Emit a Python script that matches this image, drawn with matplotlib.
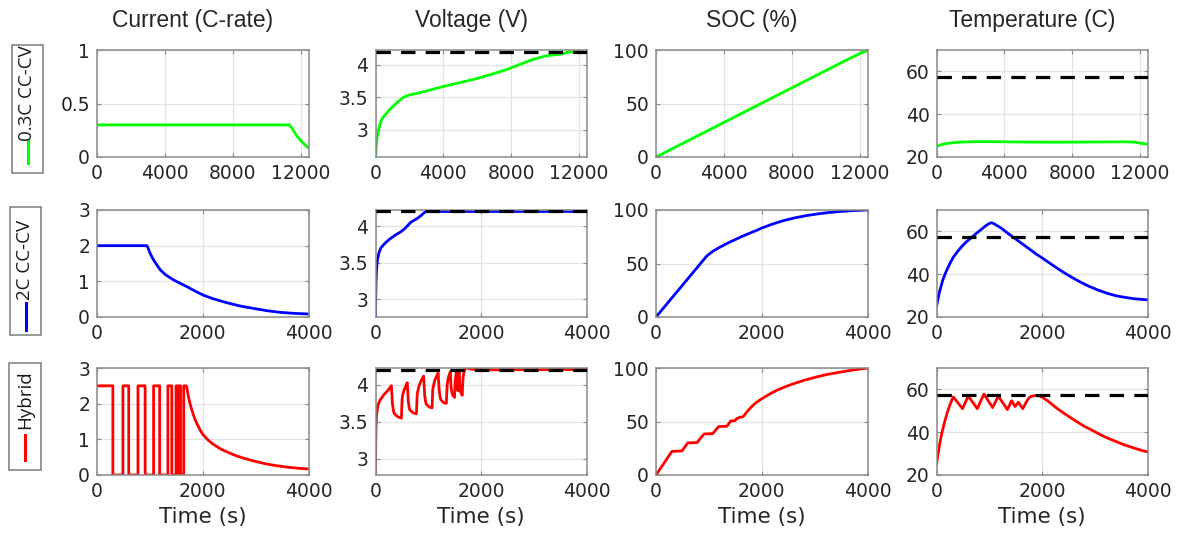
import matplotlib
matplotlib.use("Agg")
import matplotlib.pyplot as plt
from matplotlib.patches import Rectangle
from matplotlib.lines import Line2D

# ---------------- data ----------------
col_titles = ["Current (C-rate)", "Voltage (V)", "SOC (%)", "Temperature (C)"]
row_labels = ["0.3C CC-CV", "2C CC-CV", "Hybrid"]
row_colors = ["#00ff00", "#0000ff", "#ff0000"]
xlabel = "Time (s)"

v_limit = 4.2
t_limit = 57.3

# 0.3C CC-CV
t1_cur = [0, 11350, 11420, 11500, 11580, 11650, 11720, 11800, 11950, 12100, 12250, 12470]
i1_cur = [0.3, 0.3, 0.285, 0.27, 0.25, 0.23, 0.212, 0.195, 0.165, 0.14, 0.115, 0.085]
t1_v = [0, 20, 40, 80, 130, 180, 270, 370, 500, 670, 860, 1060, 1210, 1360, 1500,
        1650, 1850, 2050, 2500, 3030, 3600, 4200, 5100, 5980, 6900, 7750, 8340,
        9130, 9500, 9900, 10200, 10500, 10900, 11150, 11400, 12470]
v1 = [2.6, 2.64, 2.7, 2.85, 2.94, 3.0, 3.09, 3.16, 3.21, 3.26, 3.32, 3.37, 3.405,
      3.44, 3.47, 3.5, 3.525, 3.54, 3.565, 3.6, 3.64, 3.68, 3.735, 3.79, 3.86, 3.93,
      3.99, 4.07, 4.1, 4.13, 4.145, 4.155, 4.165, 4.18, 4.2, 4.2]
t1_soc = [0, 11400, 11800, 12200, 12470]
soc1 = [0, 92, 95, 98, 99.5]
t1_T = [0, 150, 300, 500, 800, 1100, 1500, 2200, 3000, 4000, 5000, 6000, 7000,
        8000, 9000, 10000, 11000, 11400, 11700, 12000, 12250, 12470]
T1 = [25, 25.4, 25.8, 26.2, 26.5, 26.8, 27, 27.15, 27.2, 27.1, 27, 26.95, 26.9,
      26.95, 27, 27.05, 27.1, 27.05, 26.9, 26.5, 26.2, 26]

# 2C CC-CV
t2_cur = [0, 945, 970, 1000, 1050, 1100, 1197, 1300, 1449, 1580, 1701, 1850, 2016,
          2200, 2457, 2700, 2961, 3200, 3465, 3750, 4000]
i2_cur = [2, 2, 1.92, 1.8, 1.65, 1.53, 1.32, 1.18, 1.04, 0.94, 0.85, 0.73, 0.61,
          0.51, 0.40, 0.31, 0.24, 0.18, 0.13, 0.10, 0.085]
t2_v = [0, 3, 8, 19, 35, 63, 100, 158, 230, 300, 380, 474, 560, 663, 730, 800,
        870, 948, 4000]
v2 = [2.76, 3.0, 3.2, 3.4, 3.53, 3.63, 3.7, 3.75, 3.8, 3.84, 3.88, 3.92, 3.97,
      4.05, 4.08, 4.11, 4.15, 4.2, 4.2]
t2_soc = [0, 960, 1000, 1050, 1100, 1200, 1346, 1500, 1650, 1800, 1900, 2009,
          2200, 2400, 2610, 2850, 3050, 3242, 3500, 3750, 4000]
soc2 = [0, 57, 58.6, 60.5, 62.2, 65.0, 68.8, 72.4, 75.8, 78.9, 80.9, 83.3,
        86.8, 89.9, 92.5, 94.8, 96.3, 97.5, 98.7, 99.5, 100]
t2_T = [0, 25, 50, 82, 120, 160, 209, 260, 320, 398, 480, 560, 651, 740, 840,
        930, 990, 1030, 1070, 1120, 1220, 1340, 1472, 1600, 1750, 1880, 2010,
        2150, 2300, 2420, 2547, 2700, 2870, 3053, 3250, 3400, 3558, 3750, 4000]
T2 = [25, 28, 31, 34, 37.3, 40, 42.7, 45.3, 48, 50.6, 53, 55, 56.9, 58.8, 60.8,
      62.6, 63.6, 64, 63.8, 63.1, 61.6, 59.3, 56.9, 54.6, 51.9, 49.5, 47.4,
      45, 42.5, 40.6, 38.7, 36.6, 34.5, 32.6, 30.9, 29.9, 29.2, 28.5, 28]

# Hybrid
t3_cur = [0, 300, 300, 490, 490, 600, 600, 775, 775, 910, 910, 1070, 1070,
          1185, 1185, 1340, 1340, 1415, 1415, 1495, 1495, 1530, 1530, 1560,
          1560, 1580, 1580, 1640, 1640, 1690, 1705, 1720, 1740, 1760, 1790,
          1820, 1860, 1900, 1950, 2000, 2100, 2200, 2350, 2500, 2650, 2800,
          3000, 3200, 3400, 3600, 3800, 4000]
i3_cur = [2.5, 2.5, 0, 0, 2.5, 2.5, 0, 0, 2.5, 2.5, 0, 0, 2.5,
          2.5, 0, 0, 2.5, 2.5, 0, 0, 2.5, 2.5, 0, 0,
          2.5, 2.5, 0, 0, 2.5, 2.5, 2.4, 2.27, 2.12, 2.0, 1.84,
          1.7, 1.54, 1.41, 1.26, 1.14, 0.98, 0.86, 0.72, 0.62, 0.53, 0.46,
          0.38, 0.31, 0.26, 0.22, 0.19, 0.17]
t3_v = [0, 4, 10, 20, 30, 45, 60, 90, 120, 160, 200, 250, 300,
        310, 320, 335, 350, 385, 420, 490,
        497, 505, 520, 540, 570, 600,
        610, 620, 635, 650, 720, 775,
        782, 790, 810, 830, 870, 910,
        920, 930, 945, 960, 1020, 1070,
        1077, 1085, 1100, 1120, 1150, 1185,
        1195, 1205, 1220, 1235, 1290, 1340,
        1347, 1355, 1370, 1385, 1415,
        1423, 1430, 1445, 1460, 1495,
        1500, 1508, 1530,
        1537, 1545, 1560,
        1565, 1572, 1580,
        1587, 1595, 1612, 1640,
        1647, 1656, 1675, 1700, 1730, 1800, 2000, 4000]
v3 = [2.78, 3.2, 3.45, 3.58, 3.65, 3.71, 3.75, 3.8, 3.83, 3.87, 3.9, 3.94, 3.99,
      3.88, 3.75, 3.67, 3.62, 3.59, 3.57, 3.55,
      3.7, 3.82, 3.88, 3.93, 3.98, 4.03,
      3.92, 3.78, 3.7, 3.66, 3.62, 3.61,
      3.76, 3.88, 3.95, 4.0, 4.07, 4.12,
      4.0, 3.86, 3.78, 3.74, 3.70, 3.69,
      3.84, 3.95, 4.0, 4.06, 4.11, 4.16,
      4.04, 3.92, 3.85, 3.80, 3.76, 3.75,
      3.88, 4.0, 4.07, 4.12, 4.18,
      4.06, 3.96, 3.9, 3.86, 3.83,
      3.95, 4.06, 4.19,
      4.08, 4.0, 3.92,
      4.0, 4.12, 4.2,
      4.1, 4.0, 3.9, 3.86,
      3.98, 4.1, 4.18, 4.22, 4.23, 4.215, 4.205, 4.21]
t3_soc = [0, 300, 490, 600, 775, 910, 1070, 1185, 1340, 1415, 1495, 1530, 1560,
          1580, 1640, 1680, 1720, 1760, 1800, 1850, 1900, 2000, 2100, 2200, 2300,
          2450, 2600, 2800, 3000, 3230, 3500, 3750, 4000]
soc3 = [0, 22, 22.5, 30, 30.3, 38.4, 38.6, 45.3, 45.5, 50.5, 50.8, 53, 53.2,
        54, 54.2, 56.5, 59, 61.3, 63.4, 65.8, 67.9, 71.2, 74.2, 77, 79.5,
        82.6, 85.3, 88.5, 91.2, 93.9, 96.3, 98.3, 100]
t3_T = [0, 25, 50, 75, 100, 150, 200, 250, 290, 316, 493, 600, 771, 897, 1062,
        1169, 1340, 1422, 1485, 1549, 1631, 1670, 1700, 1740, 1770, 1830, 1896,
        1950, 2000, 2100, 2200, 2275, 2400, 2530, 2655, 2800, 2920, 3034, 3200,
        3370, 3540, 3700, 3850, 4000]
T3 = [25, 29, 33, 36.5, 39.5, 44.5, 48.8, 52.5, 55, 56.5, 51, 56.9, 51, 57.8,
      51.5, 56.9, 50.6, 54.7, 52, 54, 51, 52.8, 54.2, 55.7, 56.5, 57, 57.2,
      56.9, 56.3, 54.7, 52.7, 51.2, 49, 46.9, 44.9, 42.7, 41.2, 39.7, 37.6,
      35.9, 34.2, 32.9, 31.7, 30.7]

series = [
    [(t1_cur, i1_cur), (t1_v, v1), (t1_soc, soc1), (t1_T, T1)],
    [(t2_cur, i2_cur), (t2_v, v2), (t2_soc, soc2), (t2_T, T2)],
    [(t3_cur, i3_cur), (t3_v, v3), (t3_soc, soc3), (t3_T, T3)],
]

xlims = [(0, 12470), (0, 4000), (0, 4000)]
xticks = [[0, 4000, 8000, 12000], [0, 2000, 4000], [0, 2000, 4000]]
ylims = [
    [(0, 1), (2.58, 4.23), (0, 100), (20, 70)],
    [(0, 3), (2.76, 4.22), (0, 100), (20, 70)],
    [(0, 3), (2.78, 4.23), (0, 100), (20, 70)],
]
yticks = [
    [[0, 0.5, 1], [3, 3.5, 4], [0, 50, 100], [20, 40, 60]],
    [[0, 1, 2, 3], [3, 3.5, 4], [0, 50, 100], [20, 40, 60]],
    [[0, 1, 2, 3], [3, 3.5, 4], [0, 50, 100], [20, 40, 60]],
]
ytick_labels = [
    [["0", "0.5", "1"], ["3", "3.5", "4"], ["0", "50", "100"], ["20", "40", "60"]],
    [["0", "1", "2", "3"], ["3", "3.5", "4"], ["0", "50", "100"], ["20", "40", "60"]],
    [["0", "1", "2", "3"], ["3", "3.5", "4"], ["0", "50", "100"], ["20", "40", "60"]],
]

# ---------------- layout ----------------
W, H = 1177, 538
fig = plt.figure(figsize=(W / 100, H / 100), dpi=100)
col_left = [97, 375.5, 656, 936.5]
row_top = [50, 210, 368]
ax_w, ax_h = 211.5, 107

tick_font = dict(family="DejaVu Sans", size=13.5)
for r in range(3):
    for c in range(4):
        ax = fig.add_axes([col_left[c] / W, 1 - (row_top[r] + ax_h) / H,
                           ax_w / W, ax_h / H])
        t, y = series[r][c]
        if c == 1:
            ax.axhline(v_limit, color="black", lw=2.3, ls=(0, (4.5, 3.2)), zorder=3)
        if c == 3:
            ax.axhline(t_limit, color="black", lw=2.3, ls=(0, (4.5, 3.2)), zorder=3)
        ax.plot(t, y, color=row_colors[r], lw=2.0, zorder=2,
                solid_joinstyle="round")
        ax.set_xlim(*xlims[r])
        ax.set_ylim(*ylims[r][c])
        ax.set_xticks(xticks[r])
        ax.set_xticklabels([str(v) for v in xticks[r]], **tick_font)
        ax.set_yticks(yticks[r][c])
        ax.set_yticklabels(ytick_labels[r][c], **tick_font)
        ax.grid(True, color="#e3e3e3", lw=0.9)
        ax.set_axisbelow(True)
        for s in ax.spines.values():
            s.set_color("#8a8a8a")
            s.set_linewidth(1.1)
        ax.tick_params(direction="in", length=3, width=0.8, color="#8a8a8a",
                       labelcolor="#262626", top=True, right=True, pad=5)
        if r == 2:
            ax.set_xlabel(xlabel, family="DejaVu Sans", size=15.5,
                          color="#262626", labelpad=4)

# column titles
for c in range(4):
    xc = (col_left[c] + ax_w / 2 - 10) / W
    fig.text(xc, 1 - 20 / H, col_titles[c], ha="center", va="center",
             family="Liberation Sans", size=16.5, color="#262626")

# row legend boxes
boxes = [
    # x0, y0, x1, y1, text center y, line y0, line y1, x center
    (12, 45, 43, 173, 93.5, 140, 163, 27.5),
    (10, 207, 41, 335, 260, 303, 330, 25.5),
    (9, 363, 41, 470, 399.5, 435, 460, 25),
]
for (x0, y0, x1, y1, ty, ly0, ly1, xc), lab, colr in zip(boxes, row_labels, row_colors):
    fig.patches.append(Rectangle((x0 / W, 1 - y1 / H), (x1 - x0) / W, (y1 - y0) / H,
                                 transform=fig.transFigure, fill=False,
                                 ec="#7a7a7a", lw=1.1))
    fig.text(xc / W, 1 - ty / H, lab, rotation=90, ha="center", va="center",
             family="Open Sans", size=13.5, color="#1a1a1a")
    fig.add_artist(Line2D([xc / W, xc / W], [1 - ly0 / H, 1 - ly1 / H],
                          color=colr, lw=2.2, transform=fig.transFigure))

fig.savefig("out.png", dpi=100)
